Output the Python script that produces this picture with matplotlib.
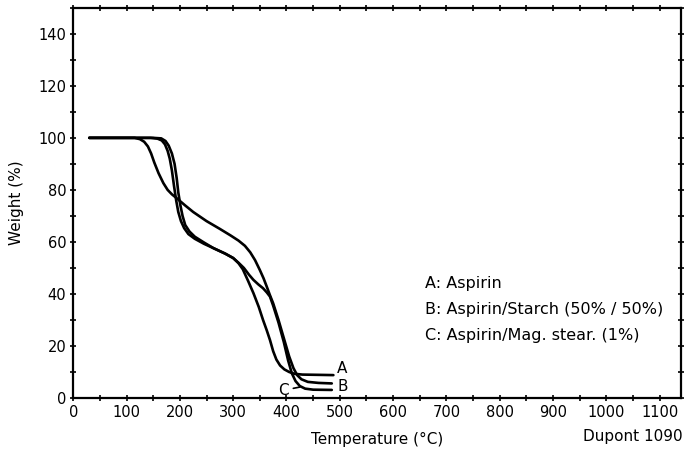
import matplotlib
matplotlib.use("Agg")
import matplotlib.pyplot as plt
from matplotlib.ticker import MultipleLocator

plt.rcParams['font.family'] = ['DejaVu Sans']

# A: Aspirin
temp_a = [30, 145, 158, 166, 172, 177, 181, 185, 189, 193, 197, 202, 208, 216, 228, 245, 263, 285,
          300, 310, 318, 328, 338, 348, 356, 363, 369, 375, 381, 388, 396, 405, 415, 430, 460, 488]
weight_a = [100, 100, 99.7, 99, 97.5, 95, 92, 87.5, 81.5, 76, 71.5, 68, 65.3, 63, 61.2, 59.3, 57.6, 55.5,
            53.8, 51.8, 49.5, 45, 40.3, 35, 30, 26, 22.3, 18, 14.8, 12.5, 11, 10, 9.3, 9, 8.9, 8.8]

# B: Aspirin/Starch (50% / 50%)
temp_b = [30, 115, 125, 133, 140, 146, 152, 160, 169, 177, 185, 194, 210, 225, 250, 275, 295, 310,
          322, 332, 341, 350, 357, 363, 369, 375, 385, 395, 405, 413, 420, 428, 440, 460, 485]
weight_b = [100, 100, 99.5, 98.5, 96.7, 94, 90.5, 86.4, 82.6, 80, 78.3, 76.8, 74, 71.5, 68, 65, 62.5, 60.5,
            58.5, 56, 53, 49.2, 46, 42.8, 39.5, 36.4, 30, 23, 16, 11.5, 8.8, 7.2, 6.2, 5.8, 5.6]

# C: Aspirin/Mag. stear. (1%)
temp_c = [30, 150, 165, 173, 179, 185, 190, 194, 197, 201, 205, 210, 218, 228, 245, 263, 285, 300,
          310, 320, 330, 338, 347, 356, 363, 369, 375, 385, 395, 403, 410, 417, 425, 435, 450, 485]
weight_c = [100, 100, 99.8, 98.8, 97, 94, 90, 84.5, 79, 74, 70, 66.5, 64, 62, 59.8, 57.6, 55.5, 53.8,
            52, 50, 47.3, 45.4, 43.7, 42.2, 40.6, 39, 35.5, 29, 21.5, 14.5, 9.5, 6.5, 4.6, 3.6, 3.2, 3.1]

legend_lines = ["A: Aspirin", "B: Aspirin/Starch (50% / 50%)", "C: Aspirin/Mag. stear. (1%)"]
x_ticks = list(range(0, 1101, 100))
y_ticks = list(range(0, 141, 20))

fig = plt.figure(figsize=(6.85, 4.58), dpi=100)
ax = fig.add_axes([0.107, 0.131, 0.887, 0.852])

lw = 1.9
for t, w in ((temp_a, weight_a), (temp_b, weight_b), (temp_c, weight_c)):
    ax.plot(t, w, color='black', lw=lw, solid_capstyle='round', solid_joinstyle='round')

ax.set_xlim(0, 1140)
ax.set_ylim(0, 150)
ax.set_xticks(x_ticks)
ax.set_yticks(y_ticks)
ax.xaxis.set_minor_locator(MultipleLocator(50))
ax.yaxis.set_minor_locator(MultipleLocator(10))
ax.tick_params(which='both', direction='inout', length=4, width=1.2, top=True, right=True,
               labelsize=10.5, pad=3)
for s in ax.spines.values():
    s.set_linewidth(1.6)

ax.set_xlabel("Temperature (°C)", fontsize=11, labelpad=9)
ax.set_ylabel("Weight (%)", fontsize=11, labelpad=10)

fig.text(0.996, 0.048, "Dupont 1090", ha='right', va='center', fontsize=11)

for i, t in enumerate(legend_lines):
    ax.text(660, 44 - i * 10, t, fontsize=11.5, va='center', ha='left')

ax.text(495, 11.5, "A", fontsize=11, va='center', ha='left')
ax.text(495, 4.5, "B", fontsize=11, va='center', ha='left')
ax.annotate("C", xy=(425, 4.2), xytext=(405, 3.0), fontsize=11, va='center', ha='right',
            arrowprops=dict(arrowstyle='-', lw=1.2, color='black', shrinkA=1, shrinkB=0))

fig.savefig("out.png", dpi=100)
